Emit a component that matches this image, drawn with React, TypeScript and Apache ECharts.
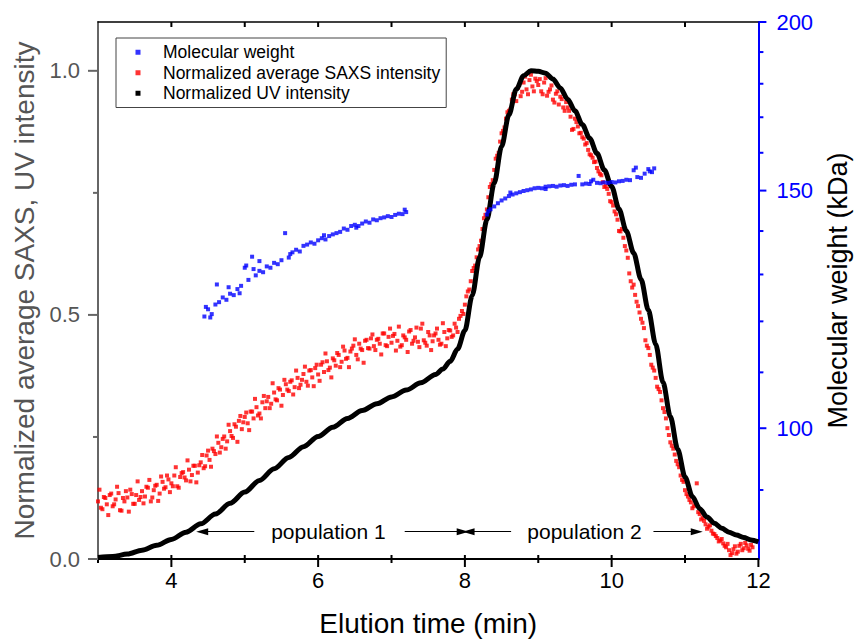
import React, { useEffect, useRef } from "react";
import * as echarts from "echarts";

const FONT = "'Liberation Sans', Arial, Helvetica, sans-serif";

// axes
const xTicks = [3, 4, 5, 6, 7, 8, 9, 10, 11, 12];
const xMajorTicks = [4, 6, 8, 10, 12];
const leftTicks = [0, 0.25, 0.5, 0.75, 1.0];
const leftMajorTicks = [0, 0.5, 1.0];
const mwTicks = [90, 100, 110, 120, 130, 140, 150, 160, 170, 180, 190, 200];
const mwMajorTicks = [100, 150, 200];

// Normalized UV intensity (black)
const uvTimes = [
  3.0, 3.2, 3.4, 3.6, 3.8, 4.0, 4.2, 4.4, 4.6, 4.8, 5.0, 5.2, 5.4, 5.6, 5.8, 6.0, 6.2, 6.4, 6.6, 6.8,
  7.0, 7.2, 7.4, 7.6, 7.7, 7.8, 7.9, 8.0, 8.1, 8.2, 8.3, 8.4, 8.5, 8.6, 8.7, 8.8, 8.9, 9.0, 9.1, 9.2,
  9.3, 9.4, 9.5, 9.6, 9.7, 9.8, 9.9, 10.0, 10.1, 10.2, 10.3, 10.4, 10.5, 10.6, 10.7, 10.8, 10.9, 11.0,
  11.1, 11.2, 11.3, 11.4, 11.5, 11.6, 11.7, 11.8, 11.9, 12.0,
];
const uvValues = [
  0.003, 0.005, 0.010, 0.018, 0.028, 0.040, 0.055, 0.072, 0.092, 0.114, 0.137, 0.161, 0.185, 0.208, 0.230, 0.251, 0.270, 0.288, 0.304, 0.318,
  0.332, 0.346, 0.361, 0.378, 0.389, 0.405, 0.430, 0.468, 0.540, 0.618, 0.695, 0.770, 0.845, 0.910, 0.962, 0.990, 1.000, 0.999, 0.995, 0.983,
  0.965, 0.942, 0.918, 0.890, 0.862, 0.831, 0.797, 0.763, 0.717, 0.672, 0.627, 0.573, 0.510, 0.440, 0.362, 0.292, 0.225, 0.168,
  0.128, 0.103, 0.086, 0.073, 0.063, 0.055, 0.049, 0.044, 0.039, 0.035,
];

// Normalized average SAXS intensity (red): two interleaved runs every 0.04 min
const saxsStartA = 3.0;
const saxsStartB = 3.02;
const saxsStep = 0.04;
const saxsValuesA = [
  0.118, 0.105, 0.127, 0.112, 0.131, 0.108, 0.122, 0.135, 0.099, 0.118, 0.126, 0.142, 0.113, 0.131, 0.121, 0.139, 0.128, 0.146, 0.118, 0.141, 0.152, 0.134, 0.158, 0.147, 0.163,
  0.155, 0.171, 0.149, 0.168, 0.178, 0.161, 0.183, 0.172, 0.191, 0.177, 0.198, 0.186, 0.212, 0.203, 0.226, 0.215, 0.238, 0.229, 0.251, 0.241, 0.262, 0.248, 0.271, 0.283, 0.266,
  0.291, 0.278, 0.302, 0.288, 0.311, 0.298, 0.321, 0.309, 0.332, 0.318, 0.341, 0.325, 0.347, 0.336, 0.358, 0.344, 0.366, 0.352, 0.371, 0.357, 0.379, 0.363, 0.386, 0.372, 0.391,
  0.378, 0.398, 0.383, 0.405, 0.392, 0.411, 0.396, 0.418, 0.404, 0.427, 0.412, 0.425, 0.437, 0.418, 0.441, 0.428, 0.447, 0.432, 0.452, 0.436, 0.449, 0.441, 0.462, 0.438, 0.455,
  0.443, 0.461, 0.447, 0.435, 0.458, 0.449, 0.466, 0.441, 0.454, 0.445, 0.472, 0.448, 0.437, 0.458, 0.446, 0.462, 0.449, 0.441, 0.465, 0.452, 0.468, 0.458, 0.474, 0.492, 0.508,
  0.521, 0.548, 0.569, 0.596, 0.618, 0.641, 0.676, 0.705, 0.741, 0.768, 0.797, 0.826, 0.855, 0.877, 0.902, 0.918, 0.941, 0.952, 0.965, 0.948, 0.976, 0.962, 0.981, 0.968, 0.984,
  0.971, 0.958, 0.976, 0.949, 0.962, 0.941, 0.953, 0.931, 0.942, 0.918, 0.925, 0.906, 0.881, 0.895, 0.872, 0.864, 0.849, 0.838, 0.827, 0.813, 0.801, 0.789, 0.772, 0.764, 0.748,
  0.731, 0.712, 0.695, 0.671, 0.658, 0.632, 0.585, 0.556, 0.541, 0.518, 0.492, 0.473, 0.437, 0.418, 0.392, 0.371, 0.348, 0.325, 0.301, 0.268, 0.239, 0.226, 0.201, 0.188, 0.162,
  0.141, 0.128, 0.116, 0.108, 0.155, 0.092, 0.084, 0.071, 0.066, 0.058, 0.051, 0.043, 0.038, 0.032, 0.024, 0.018, 0.012, 0.026, 0.015, 0.031, 0.022, 0.028, 0.017, 0.024,
];
const saxsValuesB = [
  0.142, 0.102, 0.125, 0.090, 0.134, 0.112, 0.148, 0.100, 0.125, 0.139, 0.097, 0.133, 0.113, 0.159, 0.127, 0.114, 0.148, 0.162, 0.126, 0.150, 0.119, 0.169, 0.144, 0.171, 0.137,
  0.149, 0.188, 0.146, 0.176, 0.167, 0.202, 0.159, 0.191, 0.157, 0.192, 0.213, 0.190, 0.222, 0.189, 0.221, 0.251, 0.218, 0.246, 0.226, 0.275, 0.252, 0.276, 0.240, 0.293, 0.280,
  0.300, 0.264, 0.302, 0.328, 0.294, 0.288, 0.334, 0.323, 0.309, 0.360, 0.327, 0.350, 0.314, 0.367, 0.347, 0.363, 0.337, 0.386, 0.350, 0.367, 0.394, 0.355, 0.387, 0.354, 0.398,
  0.365, 0.403, 0.421, 0.387, 0.372, 0.407, 0.422, 0.393, 0.435, 0.410, 0.393, 0.431, 0.450, 0.409, 0.431, 0.402, 0.449, 0.431, 0.460, 0.428, 0.451, 0.419, 0.462, 0.436, 0.472,
  0.457, 0.427, 0.476, 0.438, 0.454, 0.424, 0.469, 0.447, 0.474, 0.434, 0.482, 0.443, 0.465, 0.428, 0.458, 0.472, 0.439, 0.483, 0.436, 0.469, 0.455, 0.482, 0.465, 0.498, 0.502,
  0.538, 0.552, 0.590, 0.601, 0.634, 0.652, 0.698, 0.716, 0.762, 0.776, 0.820, 0.832, 0.872, 0.884, 0.915, 0.921, 0.952, 0.938, 0.971, 0.957, 0.988, 0.952, 0.992, 0.958, 0.979,
  0.983, 0.952, 0.985, 0.957, 0.970, 0.935, 0.958, 0.947, 0.925, 0.936, 0.918, 0.879, 0.902, 0.886, 0.873, 0.861, 0.852, 0.829, 0.822, 0.814, 0.794, 0.786, 0.762, 0.758, 0.733,
  0.724, 0.706, 0.672, 0.676, 0.641, 0.617, 0.569, 0.562, 0.527, 0.505, 0.484, 0.448, 0.432, 0.398, 0.386, 0.353, 0.342, 0.309, 0.288, 0.254, 0.232, 0.214, 0.194, 0.171, 0.158,
  0.133, 0.121, 0.104, 0.112, 0.096, 0.081, 0.078, 0.062, 0.069, 0.052, 0.047, 0.036, 0.041, 0.027, 0.031, 0.008, 0.020, 0.011, 0.027, 0.018, 0.033, 0.021, 0.029,
];

// Molecular weight (blue, kDa), two runs sampled every 0.05 min
const mwStart1 = 4.45;
const mwStart2 = 8.3;
const mwStep = 0.05;
const mwValues1 = [
  121.0, 122.5, 121.5, 123.5, 124.0, 125.0, 124.5, 125.8, 125.5, 126.8, 127.5, 131.5, 128.8, 134.0, 129.8, 130.8, 130.5, 131.8, 131.5, 132.6,
  132.3, 133.2, 139.5, 133.8, 135.0, 135.6, 135.2, 136.5, 136.8, 137.3, 137.0, 137.8, 138.3, 138.0, 138.8, 139.2, 139.5, 139.8, 140.6, 140.3,
  141.2, 141.5, 141.2, 141.8, 142.3, 142.0, 142.8, 142.6, 143.1, 143.3, 143.6, 143.4, 143.9, 144.2, 144.1, 144.6,
];
const mwValues2 = [
  144.0, 145.3, 146.0, 146.8, 147.5, 148.0, 148.6, 149.0, 149.3, 149.6, 149.9, 150.1, 150.3, 150.6, 150.7, 150.6, 151.0, 151.1, 151.2, 151.0,
  151.3, 151.4, 151.2, 151.5, 151.6, 153.8, 151.6, 151.8, 151.7, 152.8, 152.0, 151.9, 152.1, 152.0, 152.2, 152.1, 152.4, 152.5, 152.8, 152.7,
  155.3, 153.5, 153.3, 154.4, 155.6, 154.8,
];
const mwExtraTimes = [4.47, 4.53, 4.62, 4.78, 4.93, 5.02, 5.12, 5.2, 5.62, 6.08, 6.52, 7.18, 8.32, 8.62, 9.1, 9.72, 10.33, 10.52, 10.58];
const mwExtraValues = [123.0, 120.8, 127.8, 127.2, 125.9, 132.0, 131.2, 133.0, 134.6, 139.0, 140.8, 145.2, 144.8, 149.5, 150.4, 152.4, 156.0, 155.0, 155.8];

// population annotations
const annotationY = 0.056;
const populationLabels = ["population 1", "population 2"];
const populationCenters = [6.14, 9.63];
const arrowFrom = [5.13, 7.18, 8.63, 10.57];
const arrowTo = [4.42, 7.97, 8.05, 11.16];

const X_MIN = 3;
const X_MAX = 12;
const Y_MAX = 1.1;
const MW_MIN = 80;
const MW_MAX = 200;

const tickLine = (x1: number, y1: number, x2: number, y2: number, color: string) => ({
  type: "line",
  shape: { x1, y1, x2, y2 },
  style: { stroke: color, lineWidth: 2 },
});

const App: React.FC = () => {
  const chartRef = useRef<HTMLDivElement | null>(null);

  useEffect(() => {
    if (!chartRef.current) return;
    const chart = echarts.init(chartRef.current, undefined, { renderer: "svg" });

    const saxsData = [
      ...saxsValuesA.map((v, i) => [saxsStartA + i * saxsStep, v]),
      ...saxsValuesB.map((v, i) => [saxsStartB + i * saxsStep, v]),
    ];
    const uvData = uvTimes.map((t, i) => [t, uvValues[i]]);
    const mwData = [
      ...mwValues1.map((v, i) => [mwStart1 + i * mwStep, Math.log10(v)]),
      ...mwValues2.map((v, i) => [mwStart2 + i * mwStep, Math.log10(v)]),
      ...mwExtraTimes.map((t, i) => [t, Math.log10(mwExtraValues[i])]),
    ];

    // tick marks drawn through the axes' own scales
    const xTickSeries = {
      type: "custom",
      xAxisIndex: 0,
      yAxisIndex: 0,
      silent: true,
      clip: false,
      z: 10,
      data: xTicks.map((t) => [t, 0]),
      renderItem: (_p: any, api: any) => {
        const t = api.value(0);
        const b = api.coord([t, 0]);
        const top = api.coord([t, Y_MAX]);
        const major = xMajorTicks.indexOf(t) >= 0;
        const children: any[] = [tickLine(b[0], b[1], b[0], b[1] + (major ? 8 : 4), "#000")];
        if (t > X_MIN && t < X_MAX) {
          children.push(tickLine(b[0], b[1], b[0], b[1] - 4, "#000"));
          children.push(tickLine(top[0], top[1], top[0], top[1] + 5, "#000"));
        }
        return { type: "group", children };
      },
    };
    const leftTickSeries = {
      type: "custom",
      xAxisIndex: 0,
      yAxisIndex: 0,
      silent: true,
      clip: false,
      z: 10,
      data: leftTicks.map((v) => [X_MIN, v]),
      renderItem: (_p: any, api: any) => {
        const v = api.value(1);
        const p = api.coord([X_MIN, v]);
        const major = leftMajorTicks.indexOf(v) >= 0;
        return tickLine(p[0], p[1], p[0] - (major ? 10 : 5), p[1], "#666");
      },
    };
    const rightTickSeries = {
      type: "custom",
      xAxisIndex: 0,
      yAxisIndex: 1,
      silent: true,
      clip: false,
      z: 10,
      data: mwTicks.map((v) => [X_MAX, Math.log10(v), v]),
      renderItem: (_p: any, api: any) => {
        const p = api.coord([X_MAX, api.value(1)]);
        const major = mwMajorTicks.indexOf(api.value(2)) >= 0;
        return tickLine(p[0], p[1], p[0] + (major ? 8 : 5), p[1], "#0000ff");
      },
    };

    const option = {
      animation: false,
      textStyle: { fontFamily: FONT },
      grid: { left: 98, right: 94, top: 22, bottom: 85, containLabel: false },
      legend: {
        orient: "vertical",
        left: 116,
        top: 38,
        padding: [4, 6, 4, 19.5],
        itemGap: 0,
        itemWidth: 5,
        itemHeight: 5,
        icon: "rect",
        selectedMode: false,
        borderColor: "#444",
        borderWidth: 1,
        textStyle: { fontSize: 17.5, color: "#000", lineHeight: 20.5, fontFamily: FONT, padding: [0, 0, 0, 17.5] },
        data: ["Molecular weight", "Normalized average SAXS intensity", "Normalized UV intensity"],
      },
      xAxis: [
        {
          type: "value",
          position: "bottom",
          min: X_MIN,
          max: X_MAX,
          axisLine: { show: true, onZero: false, lineStyle: { color: "#000", width: 2 } },
          axisTick: { show: false },
          axisLabel: { customValues: xMajorTicks, fontSize: 22, color: "#000", margin: 10, fontFamily: FONT },
          splitLine: { show: false },
          name: "Elution time (min)",
          nameLocation: "middle",
          nameGap: 50,
          nameTextStyle: { fontSize: 28, color: "#000", fontFamily: FONT },
        },
        {
          type: "value",
          position: "top",
          min: X_MIN,
          max: X_MAX,
          axisLine: { show: true, onZero: false, lineStyle: { color: "#000", width: 1.5 } },
          axisTick: { show: false },
          axisLabel: { show: false },
          splitLine: { show: false },
        },
      ],
      yAxis: [
        {
          type: "value",
          position: "left",
          min: 0,
          max: Y_MAX,
          axisLine: { show: true, onZero: false, lineStyle: { color: "#666", width: 2 } },
          axisTick: { show: false },
          axisLabel: {
            customValues: leftMajorTicks,
            formatter: (v: number) => v.toFixed(1),
            color: "#555",
            fontSize: 22,
            margin: 18,
            fontFamily: FONT,
          },
          splitLine: { show: false },
          name: "Normalized average SAXS, UV intensity",
          nameLocation: "middle",
          nameGap: 58,
          nameTextStyle: { fontSize: 28, color: "#555", fontFamily: FONT },
        },
        {
          type: "value",
          position: "right",
          min: Math.log10(MW_MIN),
          max: Math.log10(MW_MAX),
          axisLine: { show: true, onZero: false, lineStyle: { color: "#0000ff", width: 2 } },
          axisTick: { show: false },
          axisLabel: {
            customValues: mwMajorTicks.map((v) => Math.log10(v)),
            formatter: (v: number) => String(Math.round(Math.pow(10, v))),
            color: "#0000ff",
            fontSize: 22,
            margin: 18,
            fontFamily: FONT,
          },
          splitLine: { show: false },
          name: "Molecular weight (kDa)",
          nameLocation: "middle",
          nameGap: 60,
          nameTextStyle: { fontSize: 27, color: "#000", fontFamily: FONT },
        },
      ],
      series: [
        {
          name: "Normalized average SAXS intensity",
          type: "scatter",
          xAxisIndex: 0,
          yAxisIndex: 0,
          data: saxsData,
          symbol: "rect",
          symbolSize: 4,
          itemStyle: { color: "#ff0000" },
          silent: true,
          z: 2,
        },
        {
          name: "Normalized UV intensity",
          type: "line",
          xAxisIndex: 0,
          yAxisIndex: 0,
          data: uvData,
          showSymbol: false,
          symbol: "rect",
          smooth: 0.3,
          smoothMonotone: "x",
          lineStyle: { color: "#000", width: 5 },
          itemStyle: { color: "#000" },
          silent: true,
          z: 3,
          markLine: {
            silent: true,
            symbol: ["none", "triangle"],
            symbolSize: [0, 9],
            lineStyle: { color: "#000", width: 1, type: "solid" },
            label: { show: false },
            emphasis: { disabled: true },
            data: arrowFrom.map((from, i) => [
              { coord: [from, annotationY] },
              { coord: [arrowTo[i], annotationY], symbolSize: [7, 12] },
            ]),
          },
          markPoint: {
            silent: true,
            symbol: "rect",
            symbolSize: 1,
            itemStyle: { color: "rgba(0,0,0,0)" },
            label: {
              show: true,
              position: "inside",
              color: "#000",
              fontSize: 21,
              fontFamily: FONT,
              formatter: (p: any) => p.name,
            },
            data: populationLabels.map((text, i) => ({ name: text, coord: [populationCenters[i], annotationY] })),
          },
        },
        {
          name: "Molecular weight",
          type: "scatter",
          xAxisIndex: 0,
          yAxisIndex: 1,
          data: mwData,
          symbol: "rect",
          symbolSize: 4,
          itemStyle: { color: "#0000ff" },
          silent: true,
          z: 4,
        },
        xTickSeries,
        leftTickSeries,
        rightTickSeries,
      ],
    };

    chart.setOption(option as any);
    return () => {
      chart.dispose();
    };
  }, []);

  return (
    <div
      ref={chartRef}
      style={{ position: "absolute", left: 0, top: 0, width: 859, height: 644, background: "#fff" }}
    />
  );
};

export default App;
